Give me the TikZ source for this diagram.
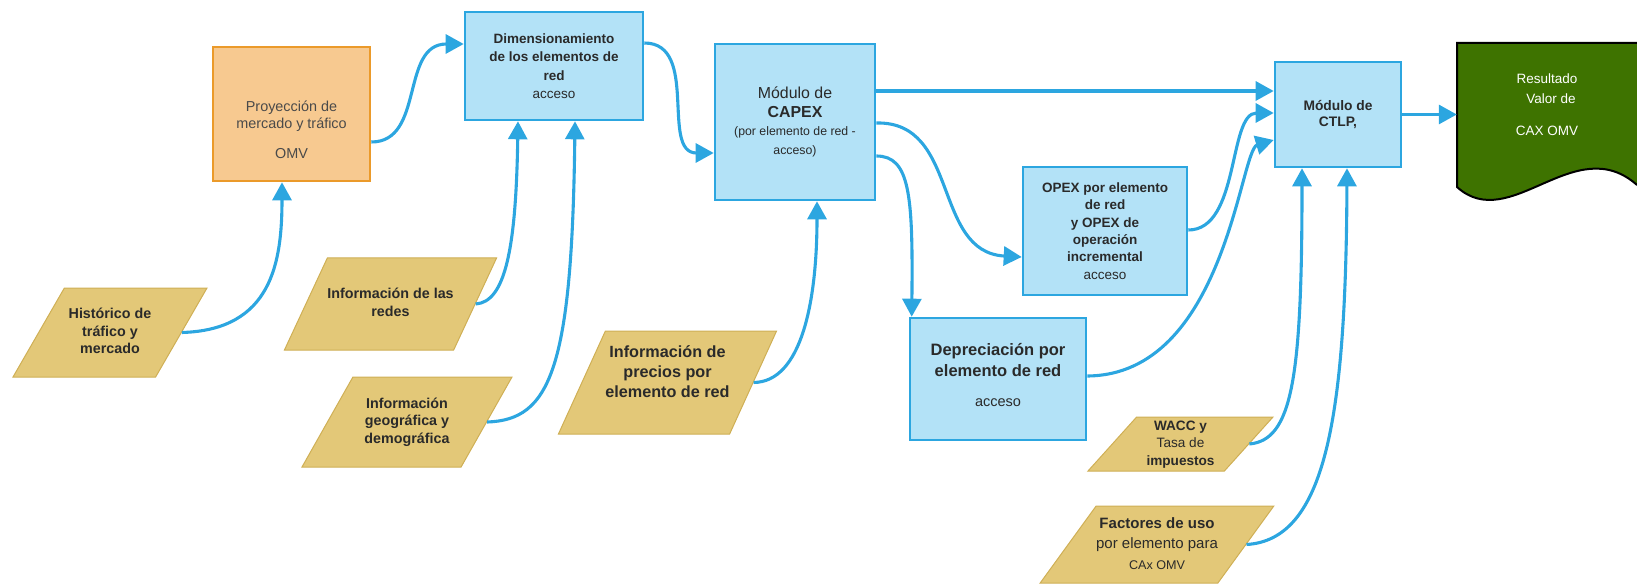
\documentclass[tikz,border=0pt]{standalone}
\usepackage{fontspec}
\setmainfont{Liberation Sans}
\usepackage{tikz}
\usetikzlibrary{arrows.meta,positioning,shapes.geometric,calc}
\definecolor{flowBlue}{HTML}{2CA6E0}
\definecolor{flowSky}{HTML}{B3E2F7}
\definecolor{flowOrange}{HTML}{EB9A2A}
\definecolor{flowPeach}{HTML}{F7C990}
\definecolor{flowSand}{HTML}{E3C878}
\definecolor{flowSandEdge}{HTML}{CFAF55}
\definecolor{flowGreen}{HTML}{3E7300}
\definecolor{flowInk}{HTML}{2A2A2A}
\newcommand{\dataLines}[3][0pt]{\vbox to #2{\vss\hbox{\begin{tabular}{@{}c@{}}#3\end{tabular}}\vskip#1\vss}}
\tikzset{
  module/.style={
    rectangle,
    draw=flowBlue,
    fill=flowSky,
    line width=2.6pt,
    align=center,
    inner sep=0pt,
    text=flowInk,
    font=\fontsize{13.5}{18.5}\selectfont
  },
  projection/.style={
    rectangle,
    draw=flowOrange,
    fill=flowPeach,
    line width=2.6pt,
    align=center,
    inner sep=0pt,
    text=flowInk!85,
    font=\fontsize{14.4}{17}\selectfont
  },
  inputData/.style={
    trapezium,
    trapezium left angle=60,
    trapezium right angle=120,
    trapezium stretches body=true,
    draw=flowSandEdge,
    fill=flowSand,
    line width=1pt,
    inner sep=0pt,
    text=flowInk,
    font=\fontsize{14.3}{17.5}\selectfont\bfseries
  },
  resultText/.style={
    rectangle,
    align=center,
    inner sep=0pt,
    text=white,
    font=\fontsize{13.5}{20}\selectfont
  },
  flowArrow/.style={
    -{Triangle[length=18pt,width=19pt]},
    line width=3.1pt,
    draw=flowBlue
  }
}

\begin{document}
\begin{tikzpicture}[x=1pt,y=-1pt]
  \useasboundingbox (0,0) rectangle (1637,585);
  \node[projection,minimum width=157,minimum height=134] (proj) at (291.5,114) {\rule{0pt}{42pt}Proyección de\\mercado y tráfico\\[13pt]OMV};
  \node[module,minimum width=178,minimum height=108] (dim) at (554,66) {\textbf{Dimensionamiento}\\\textbf{de los elementos de}\\\textbf{red}\\acceso};
  \node[module,minimum width=160,minimum height=156] (capex) at (795,122) {{\fontsize{15.9}{21}\selectfont Módulo de}\\{\fontsize{15.9}{21}\selectfont\bfseries CAPEX}\\{\fontsize{12.3}{18}\selectfont (por elemento de red -}\\{\fontsize{12.3}{18}\selectfont acceso)}};
  \node[module,minimum width=126,minimum height=105,font=\fontsize{13.8}{15.5}\selectfont\bfseries] (ctlp) at (1338,114.5) {Módulo de\\CTLP,};
  \node[module,minimum width=164,minimum height=128,font=\fontsize{13.5}{17.4}\selectfont] (opex) at (1105,231) {\textbf{OPEX por elemento}\\\textbf{de red}\\\textbf{y OPEX de}\\\textbf{operación}\\\textbf{incremental}\\acceso};
  \node[module,minimum width=176,minimum height=122,font=\fontsize{16.5}{20.5}\selectfont] (dep) at (998,379) {\textbf{Depreciación por}\\\textbf{elemento de red}\\[10pt]{\fontsize{14.5}{16}\selectfont acceso}\rule[-8pt]{0pt}{0pt}};
  \node[inputData,minimum width=194] (hist) at (110,332.5) {\dataLines{89pt}{Histórico de\\tráfico y\\mercado}};
  \node[inputData,trapezium left angle=65,trapezium right angle=115,minimum width=209] (redes) at (390.5,304) {\dataLines{92pt}{Información de las\\redes}};
  \node[inputData,trapezium left angle=60.5,trapezium right angle=119.5,minimum width=210] (geo) at (407,422) {\dataLines{90pt}{Información\\geográfica y\\demográfica}};
  \node[inputData,trapezium left angle=65.5,trapezium right angle=114.5,minimum width=209,font=\fontsize{16.2}{20}\selectfont\bfseries] (precios) at (667.5,382.5) {\dataLines[18pt]{103pt}{Información de\\precios por\\elemento de red}};
  \node[inputData,trapezium left angle=48,trapezium right angle=132,minimum width=185,font=\fontsize{13.6}{17.5}\selectfont] (wacc) at (1180.5,444) {\dataLines{54pt}{\textbf{WACC y}\\Tasa de\\\textbf{impuestos}}};
  \node[inputData,trapezium left angle=54,trapezium right angle=126,minimum width=230,font=\fontsize{15}{20.5}\selectfont] (fact) at (1157,544.5) {\dataLines{77pt}{\textbf{Factores de uso}\\por elemento para\\{\fontsize{12.6}{14}\selectfont CAx OMV}}};
  \fill[flowGreen] (1457,43) -- (1637,43) -- (1637,185) .. controls (1575,130) and (1510,235) .. (1457,187) -- cycle;
  \draw[line width=2pt] (1637,43) -- (1457,43) -- (1457,187) .. controls (1510,235) and (1575,130) .. (1637,185);
  \node[resultText,minimum width=180,minimum height=124] (result) at (1547,105) {Resultado\\\hspace*{8pt}Valor de\\[12pt]CAX OMV};
  \draw[flowArrow] (hist.east) .. controls (272,330) and (282,262) .. ($(proj.south)+(-9.5,0)$);
  \draw[flowArrow] (redes.east) .. controls (505,302) and (516,250) .. ($(dim.south)+(-36,0)$);
  \draw[flowArrow] (geo.east) .. controls (550,420) and (572,370) .. ($(dim.south)+(21,0)$);
  \draw[flowArrow] ($(proj.east)+(0,28)$) .. controls (425,142) and (400,44) .. ($(dim.west)+(0,-22)$);
  \draw[flowArrow] ($(dim.east)+(0,-23)$) .. controls (700,43) and (660,153) .. ($(capex.west)+(0,31)$);
  \draw[flowArrow] ($(capex.east)+(0,-31)$) -- ($(ctlp.west)+(0,-23.5)$);
  \draw[flowArrow] ($(capex.east)+(0,1)$) .. controls (960,121) and (932,252) .. ($(opex.west)+(0,26)$);
  \draw[flowArrow] ($(capex.east)+(0,34)$) .. controls (910,156) and (913,195) .. ($(dep.north west)+(3,0)$);
  \draw[flowArrow] ($(opex.east)+(0,-1)$) .. controls (1240,230) and (1228,113) .. ($(ctlp.west)+(0,-1.5)$);
  \draw[flowArrow] ($(dep.east)+(0,-3)$) .. controls (1225,375) and (1240,150) .. ($(ctlp.west)+(0,25.5)$);
  \draw[flowArrow] (wacc.east) .. controls (1292,440) and (1302,380) .. ($(ctlp.south)+(-36,0)$);
  \draw[flowArrow] (fact.east) .. controls (1325,540) and (1346,420) .. ($(ctlp.south)+(9,0)$);
  \draw[flowArrow] (precios.east) .. controls (802,382) and (817,300) .. ($(capex.south)+(22,0)$);
  \draw[flowArrow] (ctlp.east) -- (ctlp.east -| result.west);
\end{tikzpicture}
\end{document}
